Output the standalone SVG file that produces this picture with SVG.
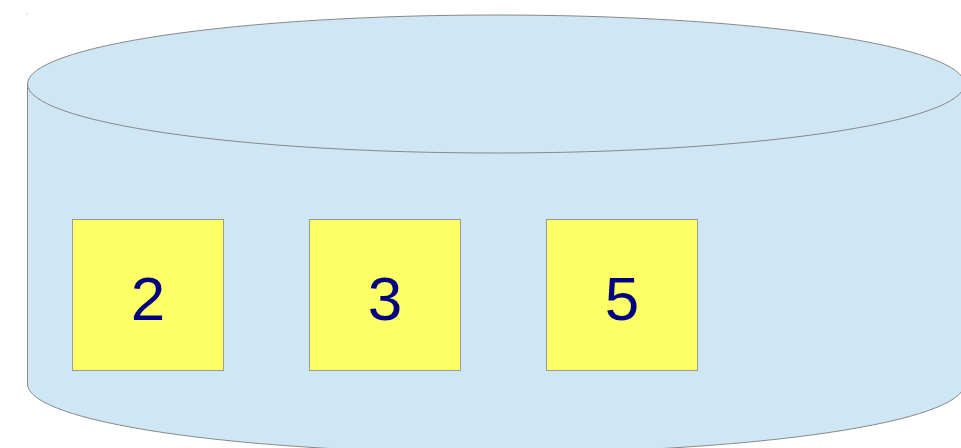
<svg xmlns="http://www.w3.org/2000/svg" width="961" height="448" viewBox="0 0 961 448">
<style>
.cyl{fill:#cfe6f4;stroke:#888;stroke-width:1}
.box rect{fill:#ffff66;stroke:#999;stroke-width:1}
.box text{font-family:"Liberation Sans",Arial,sans-serif;font-size:62px;fill:#000080;text-anchor:middle}
</style>
<rect width="961" height="448" fill="#fff"/>
<rect x="26.5" y="13.5" width="1" height="1" fill="#999"/>
<g id="cylinder">
<path class="cyl" d="M27.5,84 L27.5,384 A468.5,69 0 0 0 964.5,384 L964.5,84"/>
<ellipse class="cyl" cx="496" cy="84" rx="468.5" ry="69"/>
</g>
<g id="n2" class="box"><rect x="72.5" y="219.5" width="151" height="151"/><text x="148" y="320">2</text></g>
<g id="n3" class="box"><rect x="309.5" y="219.5" width="151" height="151"/><text x="385" y="320">3</text></g>
<g id="n5" class="box"><rect x="546.5" y="219.5" width="151" height="151"/><text x="622" y="320">5</text></g>
<g id="connectors"/>
</svg>
